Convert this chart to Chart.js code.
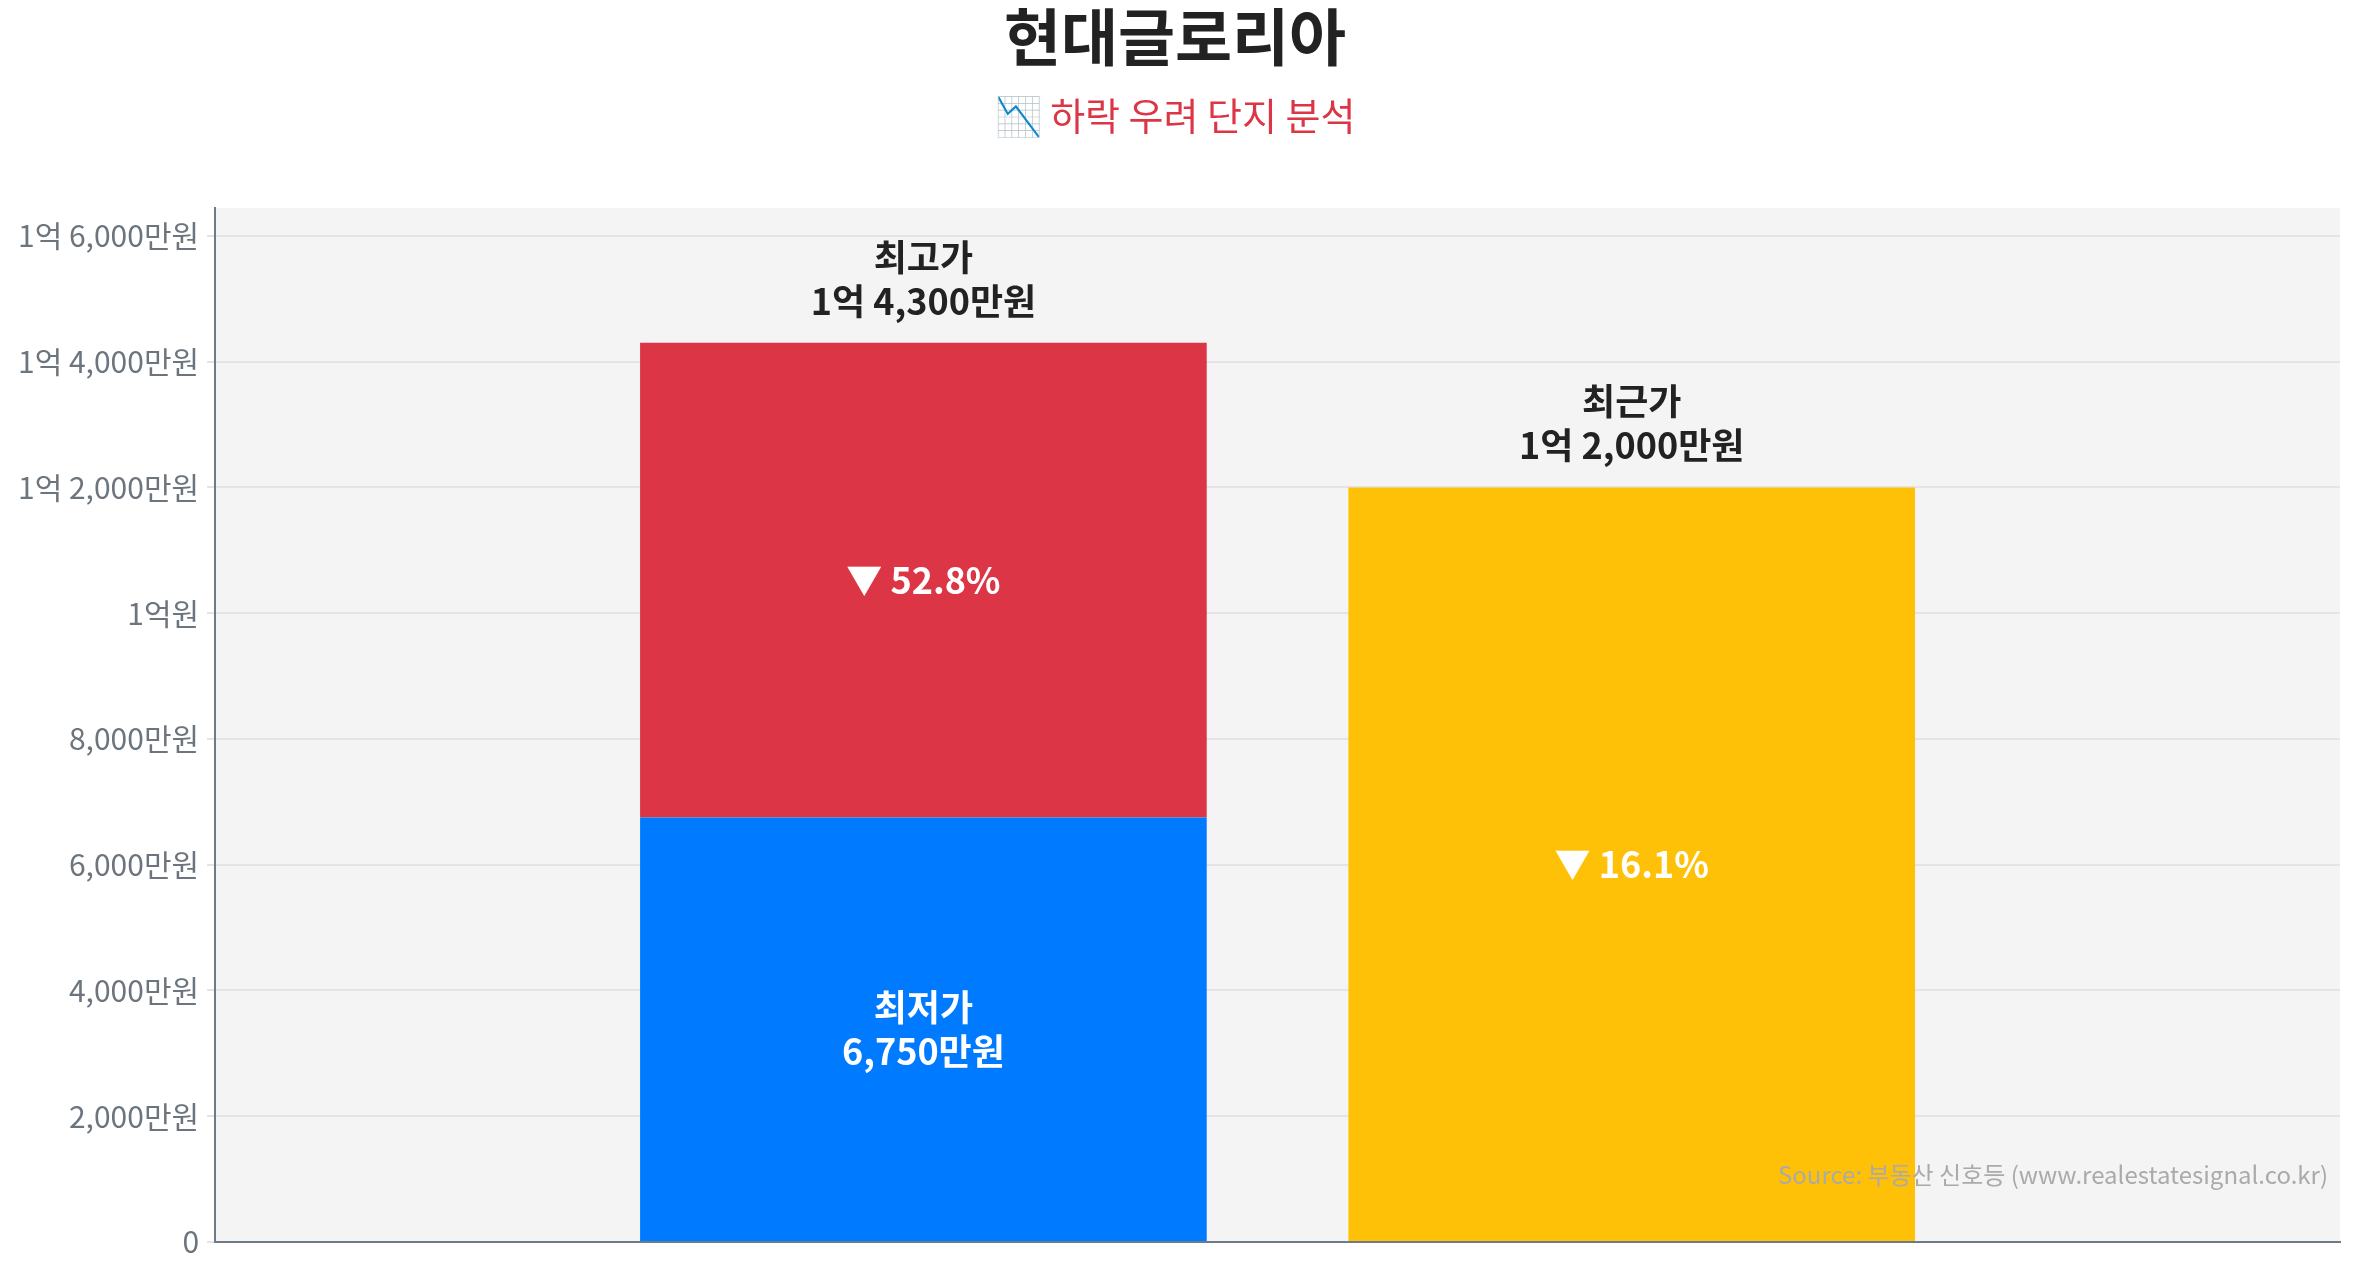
<!DOCTYPE html>
<html><head><meta charset="utf-8">
<script src="https://cdn.jsdelivr.net/npm/chart.js@4"></script>
<style>html,body{margin:0;padding:0;background:#fff}#w{width:2357px;height:1268px}</style>
</head><body><div id="w"><canvas id="c"></canvas></div>
<script>
const categories = ['', '최고가', '최근가', ''];
const lowValues = [null, 6750, null, null];
const dropValues = [null, 7550, null, null];
const recentValues = [null, null, 12000, null];
const topLabels = [null, ['최고가', '1억 4,300만원'], ['최근가', '1억 2,000만원'], null];
const tickValues = [0,2000,4000,6000,8000,10000,12000,14000,16000];
const F = '"Noto Sans CJK KR","Noto Sans",sans-serif';

function fmt(v){
  if(v===0) return '0';
  const eok=Math.floor(v/10000), man=v%10000;
  if(eok===0) return man.toLocaleString('en-US')+'만원';
  if(man===0) return eok+'억원';
  return eok+'억 '+man.toLocaleString('en-US')+'만원';
}

const bgPlugin={id:'bg',beforeDraw(ch){const a=ch.chartArea,c=ch.ctx;c.save();c.fillStyle='#f4f4f4';c.fillRect(a.left,a.top,a.right-a.left,a.bottom-a.top);c.restore();}};
const lblPlugin={id:'lbl',afterDatasetsDraw(ch){
  const c=ch.ctx;c.save();c.textAlign='center';c.textBaseline='middle';
  const y=ch.scales.y;
  const m0=ch.getDatasetMeta(0),m1=ch.getDatasetMeta(1),m2=ch.getDatasetMeta(2);
  c.font='bold 36px '+F;
  // top labels
  [[m1,1],[m2,2]].forEach(([m,i])=>{const b=m.data[i];const t=topLabels[i];c.fillStyle='#222';
    c.fillText(t[0],b.x,b.y-86);c.fillText(t[1],b.x,b.y-42);});
  c.fillStyle='#fff';
  let b=m0.data[1];c.fillText('최저가',b.x,(b.y+b.base)/2-22);c.fillText(lowValues[1].toLocaleString('en-US')+'만원',b.x,(b.y+b.base)/2+22);
  b=m1.data[1];c.fillText('▼ 52.8%',b.x,(b.y+b.base)/2);
  b=m2.data[2];c.fillText('▼ 16.1%',b.x,(b.y+b.base)/2);
  c.font='24px '+F;c.fillStyle='#aaa';c.textAlign='right';
  c.fillText('Source: 부동산 신호등 (www.realestatesignal.co.kr)',ch.chartArea.right-12,ch.chartArea.bottom-67);
  c.restore();}};

new Chart(document.getElementById('c'),{
  type:'bar',
  data:{labels:categories,datasets:[
    {data:lowValues,backgroundColor:'#007bff'},
    {data:dropValues,backgroundColor:'#dc3545'},
    {data:recentValues,backgroundColor:'#ffc107'}]},
  options:{responsive:true,maintainAspectRatio:false,devicePixelRatio:1,animation:false,
    layout:{padding:{right:17,bottom:10,left:10}},
    datasets:{bar:{barPercentage:0.8,categoryPercentage:1}},
    plugins:{legend:{display:false},tooltip:{enabled:false},
      title:{display:true,text:'현대글로리아',color:'#222',font:{family:F,size:62,weight:'bold'},padding:{top:0,bottom:18}},
      subtitle:{display:true,text:'📉 하락 우려 단지 분석',color:'#dc3545',font:{family:F,size:38},padding:{bottom:70}}},
    scales:{
      x:{stacked:true,offset:false,grid:{display:false},ticks:{display:false},border:{color:'#6c7a89',width:2}},
      y:{stacked:true,min:0,max:16445,afterBuildTicks(s){s.ticks=tickValues.map(v=>({value:v}));},
        ticks:{callback:v=>fmt(v),color:'#6c757d',font:{family:F,size:30},padding:8},
        grid:{color:'#e4e4e4',lineWidth:2,tickLength:8},border:{color:'#6c7a89',width:2}}}},
  plugins:[bgPlugin,lblPlugin]});
</script></body></html>
